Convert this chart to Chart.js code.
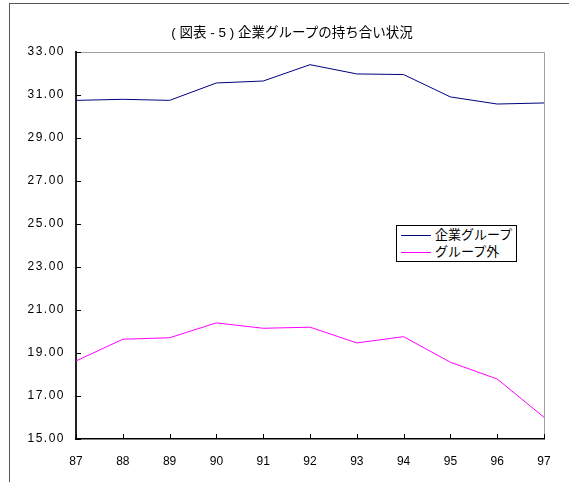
<!DOCTYPE html>
<html>
<head>
<meta charset="utf-8">
<script src="https://cdn.jsdelivr.net/npm/chart.js@4/dist/chart.umd.min.js"></script>
<style>
  html, body { margin: 0; padding: 0; background: #fff; overflow: hidden; }
  #wrap { position: relative; width: 569px; height: 482px; }
  #chart { position: absolute; left: 0; top: 0; }
  .frame-left { position: absolute; left: 9px; top: 3px; width: 1px; height: 479px; background: #555; }
  .frame-top { position: absolute; left: 9px; top: 3px; width: 560px; height: 1px; background: #555; }
  #title {
    position: absolute; left: 92px; top: 21px; width: 400px; text-align: center;
    font: 13.5px 'Liberation Sans', Arial, 'Noto Sans CJK JP', sans-serif; color: #000;
  }
  #legend {
    position: absolute; left: 396px; top: 225px; width: 119px; height: 35px;
    border: 1px solid #000; background: #fff;
    font: 13px 'Liberation Sans', Arial, 'Noto Sans CJK JP', sans-serif; color: #000;
  }
  #legend .row { position: absolute; left: 0; height: 16px; line-height: 16px; white-space: nowrap; }
  #legend .swatch { position: absolute; left: 4px; top: 8px; width: 30px; height: 1px; }
  #legend .label { position: absolute; left: 38px; top: 0; }
</style>
</head>
<body>
<div id="wrap">
  <canvas id="chart" width="569" height="482"></canvas>
  <div class="frame-left"></div>
  <div class="frame-top"></div>
  <div id="title">( 図表 - 5 ) 企業グループの持ち合い状況</div>
  <div id="legend"></div>
</div>
<script>
// Fiscal years (two-digit) on the horizontal axis
const years = ['87', '88', '89', '90', '91', '92', '93', '94', '95', '96', '97'];

// Cross-shareholding ratio (%) within corporate groups
const groupShare = [30.75, 30.80, 30.75, 31.56, 31.65, 32.41, 31.98, 31.95, 30.91, 30.58, 30.63];

// Cross-shareholding ratio (%) outside the groups
const outsideShare = [18.63, 19.64, 19.71, 20.40, 20.15, 20.20, 19.47, 19.76, 18.57, 17.79, 16.01];

// Vertical axis tick values
const yTickValues = [15, 17, 19, 21, 23, 25, 27, 29, 31, 33];

const seriesNames = ['企業グループ', 'グループ外'];
const seriesColors = ['#000080', '#ff00ff'];

// Small tick marks drawn inward, plus the light frame on top/right of the plot
const innerTicks = {
  id: 'innerTicks',
  beforeDraw(chart) {
    // y-axis labels are spaced out a little (x labels are drawn later, after the reset)
    chart.ctx.letterSpacing = '1.5px';
  },
  beforeDatasetsDraw(chart) {
    chart.ctx.letterSpacing = '0px';
  },
  afterDatasetsDraw(chart) {
    const { ctx, chartArea: a } = chart;
    ctx.save();
    ctx.strokeStyle = '#a0a0a0';
    ctx.lineWidth = 1;
    ctx.beginPath();
    ctx.moveTo(a.left, a.top + 0.5);
    ctx.lineTo(a.right + 0.5, a.top + 0.5);
    ctx.lineTo(a.right + 0.5, a.bottom);
    ctx.stroke();
    ctx.restore();
  },
  afterDraw(chart) {
    const { ctx, chartArea: a, scales } = chart;
    ctx.save();
    ctx.strokeStyle = '#000';
    ctx.lineWidth = 1;
    ctx.beginPath();
    scales.y.ticks.forEach((t, i) => {
      const y = Math.round(scales.y.getPixelForTick(i)) + 0.5;
      ctx.moveTo(a.left, y);
      ctx.lineTo(a.left + 5, y);
    });
    scales.x.ticks.forEach((t, i) => {
      const x = Math.round(scales.x.getPixelForTick(i)) + 0.5;
      ctx.moveTo(x, a.bottom);
      ctx.lineTo(x, a.bottom - 5);
    });
    ctx.stroke();
    ctx.restore();
  }
};

const font = { family: "'Liberation Sans', Arial, 'Noto Sans CJK JP', sans-serif", size: 12 };

const chart = new Chart(document.getElementById('chart'), {
  type: 'line',
  data: {
    labels: years,
    datasets: [
      { label: seriesNames[0], data: groupShare, borderColor: seriesColors[0], backgroundColor: seriesColors[0],
        borderWidth: 1, pointRadius: 0, tension: 0, fill: false },
      { label: seriesNames[1], data: outsideShare, borderColor: seriesColors[1], backgroundColor: seriesColors[1],
        borderWidth: 1, pointRadius: 0, tension: 0, fill: false }
    ]
  },
  options: {
    responsive: false,
    animation: false,
    layout: { padding: { top: 52, right: 25, bottom: 0, left: 0 } },
    plugins: { legend: { display: false }, title: { display: false }, tooltip: { enabled: false } },
    scales: {
      x: {
        type: 'category',
        offset: false,
        grid: { display: false, drawTicks: false },
        border: { display: true, color: '#000', width: 1.5, z: 1 },
        ticks: { z: 1, color: '#000', font: { ...font, size: 12 }, padding: 15, maxRotation: 0, autoSkip: false },
        afterFit(scale) { scale.height = 43; }
      },
      y: {
        min: 15,
        max: 33,
        grid: { display: false, drawTicks: false },
        border: { display: true, color: '#222', width: 2 },
        ticks: {
          color: '#000', font: font, padding: 11,
          callback: (v) => Number(v).toFixed(2)
        },
        afterBuildTicks(scale) { scale.ticks = yTickValues.map(v => ({ value: v })); },
        afterFit(scale) { scale.width = 76; }
      }
    }
  },
  plugins: [innerTicks]
});

// Legend box built from the dataset definitions
const legendEl = document.getElementById('legend');
chart.data.datasets.forEach((ds, i) => {
  const row = document.createElement('div');
  row.className = 'row';
  row.style.top = (1 + i * 17) + 'px';
  row.style.width = '119px';
  const sw = document.createElement('div');
  sw.className = 'swatch';
  sw.style.background = ds.borderColor;
  const lb = document.createElement('div');
  lb.className = 'label';
  lb.textContent = ds.label;
  row.appendChild(sw);
  row.appendChild(lb);
  legendEl.appendChild(row);
});
</script>
</body>
</html>
